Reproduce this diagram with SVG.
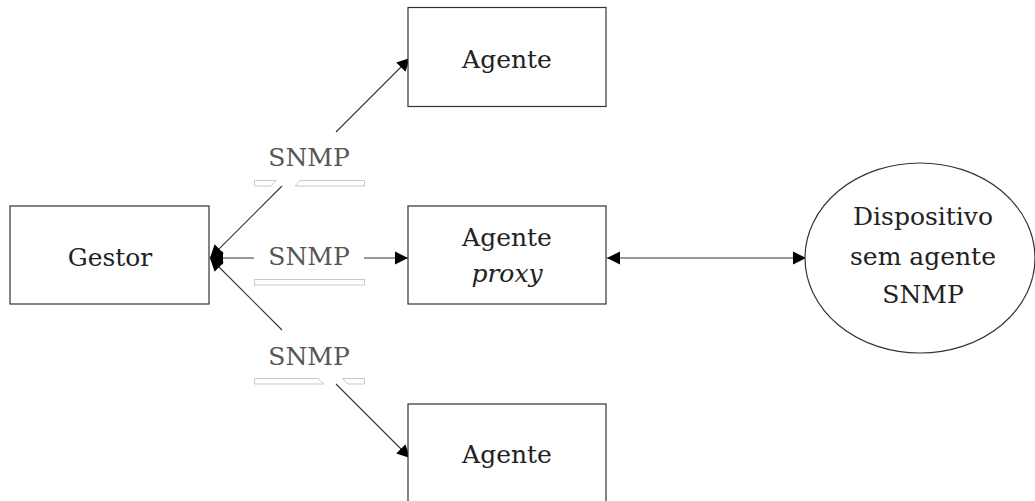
<svg xmlns="http://www.w3.org/2000/svg" width="1035" height="501" viewBox="0 0 1035 501">
  <style>
    .box { fill: #fff; stroke: #333; stroke-width: 1.2; }
    .lbl { font-family: 'DejaVu Serif', 'Liberation Serif', serif; font-size: 25px; fill: #222; text-anchor: middle; }
    .snmp { font-family: 'DejaVu Serif', 'Liberation Serif', serif; font-size: 25px; fill: #555; text-anchor: middle; }
    .edge { fill: none; stroke: #333; stroke-width: 1.1; }
    .strip { fill: #fff; stroke: #c8c8c8; stroke-width: 1; }
  </style>
  <defs>
    <marker id="head" viewBox="0 0 10 10" refX="10" refY="5" markerWidth="13" markerHeight="15" markerUnits="userSpaceOnUse" orient="auto-start-reverse">
      <path d="M0,0 L10,5 L0,10 z" fill="#000"/>
    </marker>
  </defs>

  <!-- connectors -->
  <g id="connectors">
    <!-- Gestor to upper Agente -->
    <path class="edge" d="M210,258 L282,186" marker-start="url(#head)"/>
    <path class="edge" d="M336,132 L410,58" marker-end="url(#head)"/>
    <!-- Gestor to Agente proxy -->
    <path class="edge" d="M210,258 L254,258" marker-start="url(#head)"/>
    <path class="edge" d="M364,258 L408,258" marker-end="url(#head)"/>
    <!-- Gestor to lower Agente -->
    <path class="edge" d="M210,258 L282,330" marker-start="url(#head)"/>
    <path class="edge" d="M336,384 L410,458" marker-end="url(#head)"/>
    <!-- proxy to device -->
    <path class="edge" d="M607,258 L806,258" marker-start="url(#head)" marker-end="url(#head)"/>

    <!-- edge labels -->
    <text class="snmp" x="309" y="166">SNMP</text>
    <path class="strip" d="M254.5,180.5 L276,180.5 L271,186 L254.5,186 z"/>
    <path class="strip" d="M300,180.5 L364.5,180.5 L364.5,186 L295,186 z"/>

    <text class="snmp" x="309" y="265">SNMP</text>
    <rect class="strip" x="254.5" y="279.5" width="110" height="5.5"/>

    <text class="snmp" x="309" y="365">SNMP</text>
    <path class="strip" d="M254.5,378.5 L318,378.5 L324,384 L254.5,384 z"/>
    <path class="strip" d="M342.5,378.5 L364.5,378.5 L364.5,384 L348,384 z"/>
  </g>

  <!-- nodes -->
  <g id="gestor">
    <rect class="box" x="10" y="206" width="199" height="98"/>
    <text class="lbl" x="110" y="266">Gestor</text>
  </g>
  <g id="agente-top">
    <rect class="box" x="408" y="7.5" width="198" height="99"/>
    <text class="lbl" x="507" y="68">Agente</text>
  </g>
  <g id="agente-proxy">
    <rect class="box" x="408" y="206" width="198" height="98"/>
    <text class="lbl" x="507" y="246">Agente</text>
    <text class="lbl" x="507" y="282" font-style="italic">proxy</text>
  </g>
  <g id="agente-bottom">
    <rect class="box" x="408" y="404" width="198" height="110"/>
    <text class="lbl" x="507" y="463">Agente</text>
  </g>
  <g id="dispositivo">
    <ellipse class="box" cx="920" cy="258" rx="115" ry="95"/>
    <text class="lbl" x="923" y="225">Dispositivo</text>
    <text class="lbl" x="923" y="265">sem agente</text>
    <text class="lbl" x="923" y="303">SNMP</text>
  </g>
</svg>
